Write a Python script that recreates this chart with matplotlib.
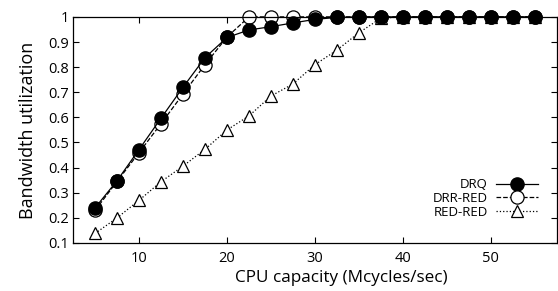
import matplotlib
matplotlib.use("Agg")
import matplotlib.pyplot as plt

plt.rcParams['font.family'] = ['Open Sans', 'DejaVu Sans']

# CPU capacity (Mcycles/sec)
cpu = [5, 7.5, 10, 12.5, 15, 17.5, 20, 22.5, 25, 27.5, 30, 32.5, 35,
       37.5, 40, 42.5, 45, 47.5, 50, 52.5, 55]

drq = [0.24, 0.348, 0.472, 0.597, 0.72, 0.838, 0.918, 0.948, 0.961, 0.976,
       0.99, 0.998, 1.0, 1.0, 1.0, 1.0, 1.0, 1.0, 1.0, 1.0, 1.0]
drr_red = [0.23, 0.345, 0.46, 0.575, 0.693, 0.81, 0.92, 1.0, 1.0, 1.0,
           1.0, 1.0, 1.0, 1.0, 1.0, 1.0, 1.0, 1.0, 1.0, 1.0, 1.0]
red_red = [0.138, 0.20, 0.27, 0.344, 0.406, 0.473, 0.55, 0.606, 0.685, 0.733,
           0.81, 0.868, 0.937, 0.995, 1.0, 1.0, 1.0, 1.0, 1.0, 1.0, 1.0]

fig = plt.figure(figsize=(5.58, 2.91), dpi=100)
ax = fig.add_axes([0.131, 0.165, 0.867, 0.777])

ax.plot(cpu, drq, '-', color='black', lw=0.9, marker='o', ms=9.5,
        mfc='black', mec='black', label='DRQ', clip_on=False, zorder=3)
ax.plot(cpu, drr_red, '--', color='black', lw=0.9, marker='o', ms=9.5,
        mfc='white', mec='black', mew=0.9, label='DRR-RED', clip_on=False, zorder=2)
ax.plot(cpu, red_red, ':', color='black', lw=0.9, marker='^', ms=9,
        mfc='white', mec='black', mew=0.9, label='RED-RED', clip_on=False, zorder=1)

ax.set_xlim(2.5, 57.5)
ax.set_ylim(0.1, 1.0)
ax.set_xticks([10, 20, 30, 40, 50])
yt = [0.1, 0.2, 0.3, 0.4, 0.5, 0.6, 0.7, 0.8, 0.9, 1.0]
ax.set_yticks(yt)
ax.set_yticklabels(['0.1', '0.2', '0.3', '0.4', '0.5', '0.6', '0.7', '0.8', '0.9', '1'])
ax.tick_params(direction='in', top=True, right=True, length=4, width=0.8,
               labelsize=10.5, colors='black')
ax.tick_params(axis='y', pad=3)
ax.tick_params(axis='x', pad=6)
for s in ax.spines.values():
    s.set_linewidth(0.9)

ax.set_xlabel('CPU capacity (Mcycles/sec)', fontsize=12.3, labelpad=2)
ax.xaxis.set_label_coords(0.555, -0.12)
ax.set_ylabel('Bandwidth utilization', fontsize=13, labelpad=8)

leg = ax.legend(loc='lower right', bbox_to_anchor=(0.985, 0.055), frameon=False,
                markerfirst=False, fontsize=9.5, handlelength=3.2,
                handletextpad=0.6, labelspacing=0.05)

fig.savefig('out.png', dpi=100)
